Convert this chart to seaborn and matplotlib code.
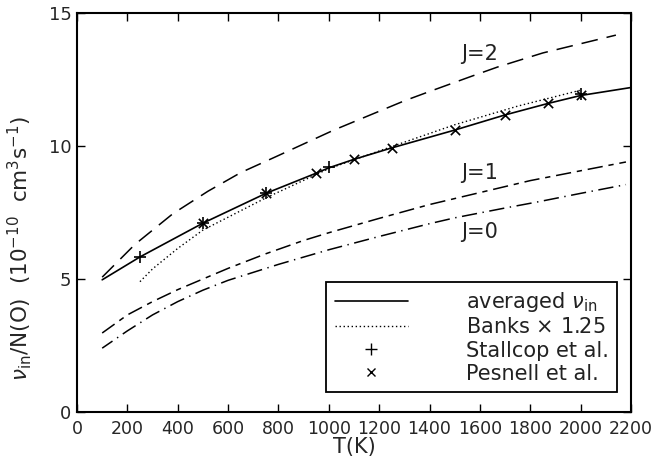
import numpy as np
import pandas as pd
import matplotlib
matplotlib.use("Agg")
import matplotlib.pyplot as plt
from matplotlib.lines import Line2D
import seaborn as sns

# ---- data ----
T_avg = [100, 250, 500, 750, 950, 1000, 1100, 1250, 1500, 1700, 1870, 2000, 2200]
nu_avg = [4.97, 5.83, 7.10, 8.22, 8.98, 9.18, 9.50, 9.93, 10.60, 11.17, 11.60, 11.90, 12.20]

T_banks = [250, 300, 400, 500, 750, 1000, 1250, 1500, 1750, 2000]
nu_banks = [4.90, 5.38, 6.15, 6.84, 8.05, 9.15, 9.98, 10.80, 11.50, 12.10]

T_j2 = [100, 230, 380, 520, 650, 790, 1020, 1300, 1400, 1560, 1670, 1850, 2140]
nu_j2 = [5.07, 6.30, 7.45, 8.30, 9.00, 9.60, 10.60, 11.70, 12.05, 12.60, 12.97, 13.50, 14.17]

T_j1 = [100, 200, 300, 400, 500, 600, 750, 900, 1000, 1200, 1400, 1600, 1800, 2000, 2180]
nu_j1 = [2.97, 3.65, 4.15, 4.60, 5.00, 5.40, 5.95, 6.45, 6.74, 7.28, 7.80, 8.25, 8.70, 9.07, 9.40]

T_j0 = [100, 200, 300, 400, 500, 600, 800, 1000, 1200, 1400, 1500, 1700, 1830, 2000, 2180]
nu_j0 = [2.40, 3.05, 3.65, 4.15, 4.58, 4.95, 5.55, 6.10, 6.60, 7.08, 7.30, 7.67, 7.90, 8.22, 8.55]

T_stallcop = [250, 500, 750, 1000, 2000]
nu_stallcop = [5.83, 7.10, 8.23, 9.20, 11.95]

T_pesnell = [500, 750, 950, 1100, 1250, 1500, 1700, 1870, 2000]
nu_pesnell = [7.10, 8.23, 8.98, 9.50, 9.93, 10.60, 11.17, 11.60, 11.90]

x_ticks = [0, 200, 400, 600, 800, 1000, 1200, 1400, 1600, 1800, 2000, 2200]
y_ticks = [0, 5, 10, 15]
j_labels = ["J=2", "J=1", "J=0"]
j_label_pos = [(1600, 13.45), (1600, 9.0), (1600, 6.77)]

legend_labels = [r"averaged $\nu_{\rm in}$", r"Banks $\times$ 1.25", "Stallcop et al.", "Pesnell et al."]

# ---- style ----
sns.set_style("ticks")
plt.rcParams["font.family"] = ["DejaVu Sans"]
plt.rcParams["mathtext.fontset"] = "dejavusans"
plt.rcParams["lines.scale_dashes"] = False

fig = plt.figure(figsize=(6.61, 4.66), dpi=100)
ax = fig.add_axes([0.1165, 0.1159, 0.9546 - 0.1165, 0.972 - 0.1159])

lw = 1.1
sns.lineplot(x=T_j2, y=nu_j2, ax=ax, color="black", lw=lw, sort=False,
             linestyle=(0, (12.0, 6.5)), errorbar=None)
sns.lineplot(x=T_j1, y=nu_j1, ax=ax, color="black", lw=lw, sort=False,
             linestyle=(0, (11.0, 4.2, 3.8, 4.2)), errorbar=None)
sns.lineplot(x=T_j0, y=nu_j0, ax=ax, color="black", lw=lw, sort=False,
             linestyle=(2, (11.0, 4.0, 1.0, 4.0)), errorbar=None)
sns.lineplot(x=T_avg, y=nu_avg, ax=ax, color="black", lw=1.2, sort=False, errorbar=None)
sns.lineplot(x=T_banks, y=nu_banks, ax=ax, color="black", lw=1.0, sort=False,
             linestyle=(0, (1.0, 1.9)), errorbar=None)

sns.scatterplot(x=T_stallcop, y=nu_stallcop, ax=ax, marker="+", s=70, color="black",
                linewidth=1.2, zorder=5)
sns.scatterplot(x=T_pesnell, y=nu_pesnell, ax=ax, marker="x", s=45, color="black",
                linewidth=1.2, zorder=5)

for lab, (tx, ty) in zip(j_labels, j_label_pos):
    ax.text(tx, ty, lab, ha="center", va="center", fontsize=15, color="#222222")

ax.set_xlim(0, 2200)
ax.set_ylim(0, 15)
ax.set_xticks(x_ticks)
ax.set_yticks(y_ticks)
ax.set_xticklabels([str(v) for v in x_ticks], fontsize=12.5)
ax.set_yticklabels([str(v) for v in y_ticks], fontsize=13)
ax.tick_params(direction="in", length=6, width=1.0, top=True, right=True,
               labeltop=False, labelright=False, pad=4, color="black")
ax.tick_params(axis="x", pad=6)
for s in ax.spines.values():
    s.set_linewidth(1.5)
    s.set_color("black")
    s.set_visible(True)

ax.set_xlabel("T(K)", fontsize=15, labelpad=-1)
ax.set_ylabel(r"$\nu_{\rm in}$/N(O)  (10$^{-10}$  cm$^3$s$^{-1}$)", fontsize=15.5)
ax.yaxis.set_label_coords(-0.078, 0.41)

handles = [
    Line2D([], [], color="black", lw=1.2),
    Line2D([], [], color="black", lw=1.0, linestyle=(0, (1.0, 1.9))),
    Line2D([], [], color="black", lw=0, marker="+", markersize=8, mew=1.0),
    Line2D([], [], color="black", lw=0, marker="x", markersize=6, mew=1.0),
]
leg = ax.legend(handles, legend_labels, loc="lower right", bbox_to_anchor=(0.975, 0.05),
                fontsize=15, frameon=True, fancybox=False, shadow=False,
                handlelength=3.5, handletextpad=2.8, labelspacing=0.15,
                borderpad=0.4, borderaxespad=0.0)
fr = leg.get_frame()
fr.set_edgecolor("black")
fr.set_linewidth(1.3)
fr.set_alpha(1)
for t in leg.get_texts():
    t.set_color("#222222")

fig.savefig("out.png", dpi=100)
